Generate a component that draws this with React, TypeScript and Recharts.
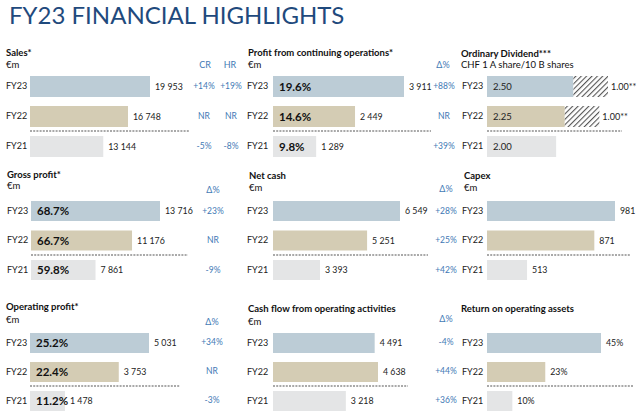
import React from 'react';
import { BarChart, Bar, XAxis, YAxis, Cell, LabelList, ReferenceLine } from 'recharts';

/* ============================
   Data
============================ */

const YEARS = ['FY23', 'FY22', 'FY21'];

const salesValues = [19953, 16748, 13144];
const salesCR = ['+14%', 'NR', '-5%'];
const salesHR = ['+19%', 'NR', '-8%'];

const profitValues = [3911, 2449, 1289];
const profitMargins = ['19.6%', '14.6%', '9.8%'];
const profitDelta = ['+88%', 'NR', '+39%'];

const dividendOrdinary = [2.5, 2.25, 2.0];
const dividendSpecial = [1.0, 1.0, null];

const grossValues = [13716, 11176, 7861];
const grossMargins = ['68.7%', '66.7%', '59.8%'];
const grossDelta = ['+23%', 'NR', '-9%'];

const netCashValues = [6549, 5251, 3393];
const netCashDelta = ['+28%', '+25%', '+42%'];

const capexValues = [981, 871, 513];

const opValues = [5031, 3753, 1478];
const opMargins = ['25.2%', '22.4%', '11.2%'];
const opDelta = ['+34%', 'NR', '-3%'];

const cashFlowValues = [4491, 4638, 3218];
const cashFlowDelta = ['-4%', '+44%', '+36%'];

const roaValues = [45, 23, 10];

/* ============================
   Styles
============================ */

const FONT = 'Lato, "Open Sans", sans-serif';
const BAR_COLORS = ['#BCCCD6', '#D4CCB4', '#E4E5E6'];
const BLUE = '#4279B5';
const TEXT = '#222';

const thousands = (v: number) => String(v).replace(/\B(?=(\d{3})+(?!\d))/g, ' ');

/* ============================
   Small helpers
============================ */

type TxtProps = {
    x: number;
    y: number;
    children: React.ReactNode;
    bold?: boolean;
    size?: number;
    color?: string;
    center?: boolean;
};

const Txt: React.FC<TxtProps> = ({ x, y, children, bold, size = 9.5, color = '#111', center }) => (
    <div
        style={{
            position: 'absolute',
            left: x,
            top: y - 7,
            lineHeight: '14px',
            height: 14,
            fontSize: size,
            fontWeight: bold ? 700 : 400,
            color,
            whiteSpace: 'nowrap',
            transform: center ? 'translateX(-50%)' : undefined,
        }}
    >
        {children}
    </div>
);

/* ============================
   Panel
============================ */

type Column = { x: number; texts: string[] };

type PanelProps = {
    left: number;
    top: number;
    axisW: number;
    barW: number; // pixel length of the largest bar
    plotW: number; // plot width, also the separator length
    rightW: number;
    band: number;
    barSize: number;
    base: number; // axis minimum
    values: number[];
    fmt: (v: number) => string;
    inner?: string[];
    special?: (number | null)[];
    cols?: Column[];
};

const Panel: React.FC<PanelProps> = (p) => {
    const data = YEARS.map((year, i) => ({
        year,
        value: p.values[i],
        label: p.fmt(p.values[i]),
        inner: p.inner ? p.inner[i] : null,
        special: p.special ? p.special[i] : null,
    }));
    const totals = data.map((d) => d.value + (d.special || 0));
    const top = Math.max(...totals);
    const domainMax = p.base + ((top - p.base) * p.plotW) / p.barW;
    const width = p.axisW + p.plotW + p.rightW;
    const stacked = !!p.special;

    return (
        <div style={{ position: 'absolute', left: p.left, top: p.top }}>
            <BarChart
                layout="vertical"
                width={width}
                height={p.band * 3}
                data={data}
                margin={{ top: 0, right: 0, bottom: 0, left: 0 }}
            >
                <defs>
                    <pattern
                        id="hatch"
                        width="3.8"
                        height="3.8"
                        patternUnits="userSpaceOnUse"
                        patternTransform="rotate(45)"
                    >
                        <rect width="3.8" height="3.8" fill="#ffffff" />
                        <line x1="0" y1="0" x2="0" y2="3.8" stroke="#555" strokeWidth="2.2" />
                    </pattern>
                </defs>
                <XAxis type="number" hide domain={[p.base, domainMax]} />
                <YAxis
                    yAxisId="l"
                    type="category"
                    dataKey="year"
                    width={p.axisW}
                    axisLine={false}
                    tickLine={false}
                    interval={0}
                    tick={({ y, payload }: any) => (
                        <text x={0} y={y} dy="0.35em" fontSize={9} fill={TEXT} fontFamily={FONT}>
                            {payload.value}
                        </text>
                    )}
                />
                <YAxis
                    yAxisId="r"
                    orientation="right"
                    type="category"
                    dataKey="year"
                    width={p.rightW}
                    axisLine={false}
                    tickLine={false}
                    interval={0}
                    tick={({ y, payload }: any) => {
                        const idx = YEARS.indexOf(payload.value);
                        return (
                            <g>
                                {(p.cols || []).map((c) => (
                                    <text
                                        key={c.x}
                                        x={c.x - p.left}
                                        y={y}
                                        dy="0.35em"
                                        textAnchor="middle"
                                        fontSize={8.5}
                                        fill={BLUE}
                                        fontFamily={FONT}
                                    >
                                        {c.texts[idx]}
                                    </text>
                                ))}
                            </g>
                        );
                    }}
                />
                {/* dotted separator between FY22 and FY21 */}
                <ReferenceLine
                    yAxisId="l"
                    y="FY21"
                    position="start"
                    stroke="#555"
                    strokeWidth={1.2}
                    strokeDasharray="2 1.2"
                    ifOverflow="visible"
                />
                <Bar
                    yAxisId="l"
                    dataKey="value"
                    stackId={stacked ? 's' : undefined}
                    barSize={p.barSize}
                    isAnimationActive={false}
                >
                    {data.map((d, i) => (
                        <Cell key={d.year} fill={BAR_COLORS[i]} />
                    ))}
                    {stacked ? (
                        <LabelList
                            dataKey="label"
                            position="insideLeft"
                            offset={6}
                            fontSize={9.5}
                            fill={TEXT}
                            fontFamily={FONT}
                        />
                    ) : (
                        <LabelList
                            dataKey="label"
                            position="right"
                            offset={5}
                            fontSize={8.8}
                            fill={TEXT}
                            fontFamily={FONT}
                        />
                    )}
                    {p.inner && (
                        <LabelList
                            dataKey="inner"
                            position="insideLeft"
                            offset={6}
                            fontSize={11.5}
                            fontWeight={700}
                            fill="#111"
                            fontFamily={FONT}
                        />
                    )}
                </Bar>
                {stacked && (
                    <Bar
                        yAxisId="l"
                        dataKey="special"
                        stackId="s"
                        barSize={p.barSize}
                        fill="url(#hatch)"
                        isAnimationActive={false}
                    >
                        <LabelList
                            dataKey="special"
                            position="right"
                            offset={3}
                            fontSize={9}
                            fill={TEXT}
                            fontFamily={FONT}
                            formatter={(v: any) => (v == null ? '' : `${Number(v).toFixed(2)}**`)}
                        />
                    </Bar>
                )}
            </BarChart>
        </div>
    );
};

/* ============================
   App
============================ */

const App: React.FC = () => (
    <div
        style={{
            position: 'absolute',
            left: 0,
            top: 0,
            width: 640,
            height: 413,
            overflow: 'hidden',
            background: '#fff',
            fontFamily: FONT,
        }}
    >
        <div
            style={{
                position: 'absolute',
                left: 9,
                top: 0,
                fontSize: 24,
                lineHeight: '30px',
                color: '#1F4A7D',
                whiteSpace: 'nowrap',
            }}
        >
            FY23 FINANCIAL HIGHLIGHTS
        </div>

        {/* Row 1 headers */}
        <Txt x={6} y={52.5} bold>Sales*</Txt>
        <Txt x={6} y={65}>€m</Txt>
        <Txt x={205} y={65} color={BLUE} size={9} center>CR</Txt>
        <Txt x={230} y={65} color={BLUE} size={9} center>HR</Txt>
        <Txt x={248} y={53} bold>Profit from continuing operations*</Txt>
        <Txt x={248} y={65}>€m</Txt>
        <Txt x={443} y={65} color={BLUE} size={9} center>Δ%</Txt>
        <Txt x={461} y={54} bold>Ordinary Dividend***</Txt>
        <Txt x={461} y={65}>CHF 1 A share/10 B shares</Txt>

        {/* Row 2 headers */}
        <Txt x={7} y={175} bold>Gross profit*</Txt>
        <Txt x={7} y={186}>€m</Txt>
        <Txt x={213} y={190} color={BLUE} size={9} center>Δ%</Txt>
        <Txt x={249} y={176} bold>Net cash</Txt>
        <Txt x={249} y={188}>€m</Txt>
        <Txt x={446} y={189} color={BLUE} size={9} center>Δ%</Txt>
        <Txt x={464} y={176} bold>Capex</Txt>
        <Txt x={464} y={188}>€m</Txt>

        {/* Row 3 headers */}
        <Txt x={6} y={307} bold>Operating profit*</Txt>
        <Txt x={6} y={320}>€m</Txt>
        <Txt x={212} y={322} color={BLUE} size={9} center>Δ%</Txt>
        <Txt x={248} y={309} bold>Cash flow from operating activities</Txt>
        <Txt x={248} y={322}>€m</Txt>
        <Txt x={446} y={319} color={BLUE} size={9} center>Δ%</Txt>
        <Txt x={461} y={309} bold>Return on operating assets</Txt>

        {/* Row 1 */}
        <Panel
            left={6} top={71} axisW={24} barW={120} plotW={159} rightW={56}
            band={30} barSize={21} base={2470}
            values={salesValues} fmt={thousands}
            cols={[{ x: 204, texts: salesCR }, { x: 231, texts: salesHR }]}
        />
        <Panel
            left={247} top={71} axisW={26} barW={131} plotW={158} rightW={29}
            band={30} barSize={21} base={0}
            values={profitValues} fmt={thousands} inner={profitMargins}
            cols={[{ x: 444, texts: profitDelta }]}
        />
        <Panel
            left={462} top={71} axisW={25} barW={121} plotW={135} rightW={18}
            band={30} barSize={21} base={0}
            values={dividendOrdinary} fmt={(v) => v.toFixed(2)}
            special={dividendSpecial}
        />

        {/* Row 2 */}
        <Panel
            left={7} top={195.5} axisW={24} barW={129} plotW={157} rightW={37}
            band={29.5} barSize={20} base={2000}
            values={grossValues} fmt={thousands} inner={grossMargins}
            cols={[{ x: 213, texts: grossDelta }]}
        />
        <Panel
            left={247} top={195.5} axisW={26} barW={127} plotW={155} rightW={32}
            band={29.5} barSize={20} base={1540}
            values={netCashValues} fmt={thousands}
            cols={[{ x: 446, texts: netCashDelta }]}
        />
        <Panel
            left={462} top={195.5} axisW={25} barW={128} plotW={143} rightW={10}
            band={29.5} barSize={20} base={300}
            values={capexValues} fmt={thousands}
        />

        {/* Row 3 */}
        <Panel
            left={6} top={327.5} axisW={24} barW={119} plotW={150} rightW={45}
            band={29} barSize={20} base={0}
            values={opValues} fmt={thousands} inner={opMargins}
            cols={[{ x: 212, texts: opDelta }]}
        />
        <Panel
            left={247} top={327.5} axisW={26} barW={105} plotW={135} rightW={52}
            band={29} barSize={20} base={0}
            values={cashFlowValues} fmt={thousands}
            cols={[{ x: 446, texts: cashFlowDelta }]}
        />
        <Panel
            left={462} top={327.5} axisW={25} barW={114} plotW={146} rightW={7}
            band={29} barSize={20} base={0}
            values={roaValues} fmt={(v) => `${v}%`}
        />
    </div>
);

export default App;
